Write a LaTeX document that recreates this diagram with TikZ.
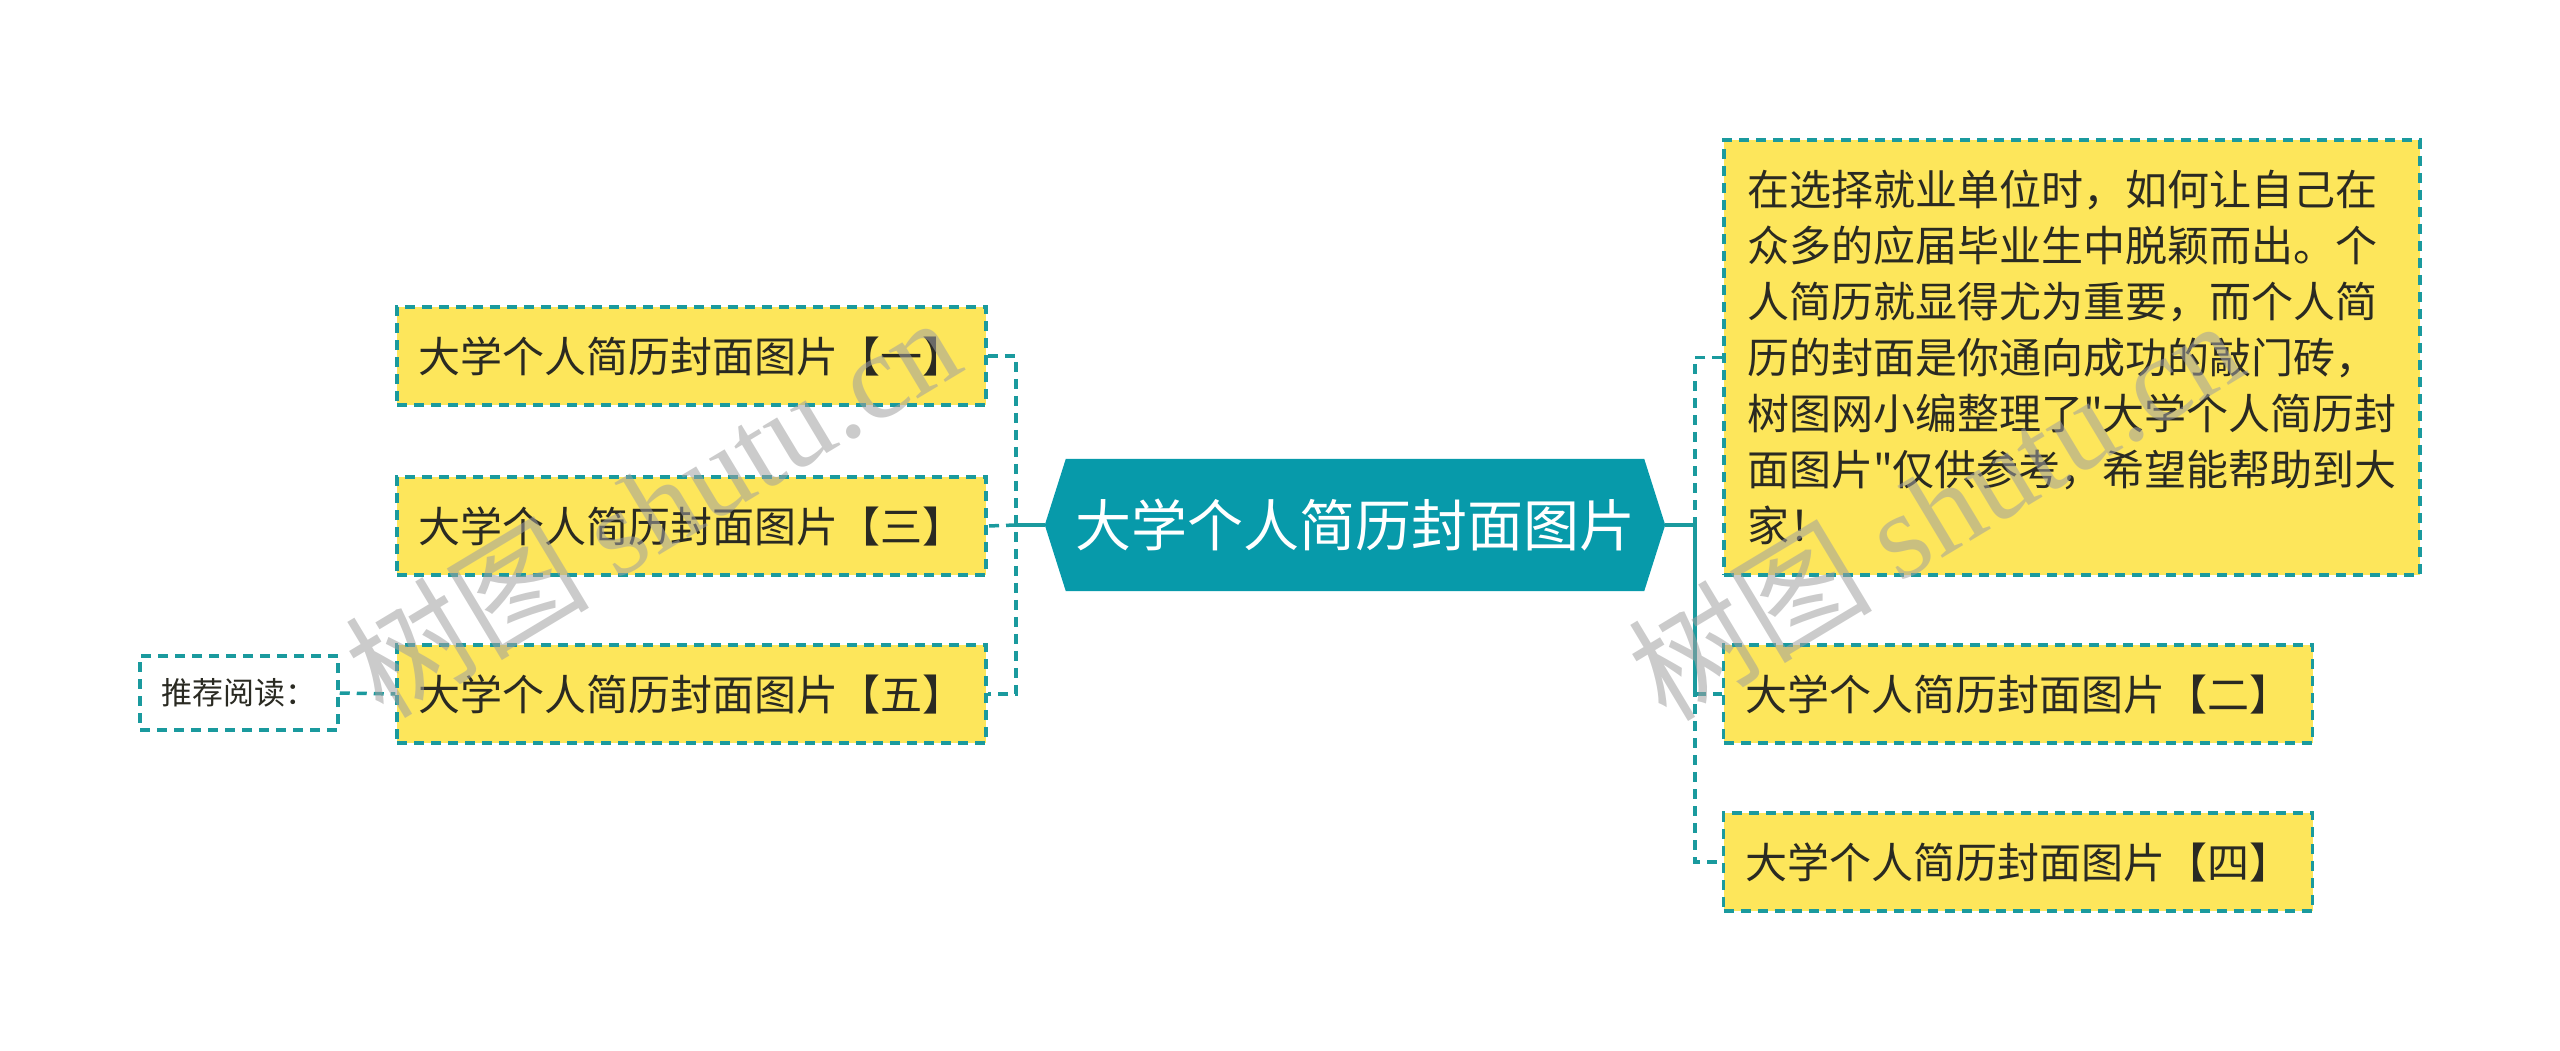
\documentclass[tikz,border=0pt]{standalone}
\usepackage{fontspec}
\setmainfont{Noto Sans CJK SC}[Ligatures=TeXOff]
\newfontfamily\wmserif{Liberation Serif}
\usetikzlibrary{backgrounds}
\definecolor{tealc}{HTML}{079AAA}
\definecolor{bordc}{HTML}{1A9A9E}
\definecolor{yel}{HTML}{FDE65B}
\definecolor{txt}{HTML}{2A2A22}
\definecolor{wmc}{HTML}{A0A0A0}
\begin{document}
\begin{tikzpicture}[x=1pt,y=-1pt,
  dashbox/.style={draw=bordc, line width=3.5pt, dash pattern=on 10pt off 7pt},
  leaf/.style={dashbox, fill=yel, text=txt, minimum width=589pt, minimum height=98pt, inner sep=0pt, font=\fontsize{42}{50}\selectfont},
  bigleaf/.style={dashbox, fill=yel, text=txt, minimum width=696pt, minimum height=435pt, inner sep=0pt, align=left, font=\fontsize{42}{56}\selectfont},
  recbox/.style={dashbox, fill=white, text=txt, minimum width=198pt, minimum height=74pt, inner sep=0pt, font=\fontsize{31}{36}\selectfont},
  centre/.style={minimum width=620pt, minimum height=132pt, inner sep=0pt, text=white, font=\fontsize{56}{62}\selectfont},
  link/.style={draw=bordc, line width=4.5pt},
  dlink/.style={draw=bordc, line width=3.5pt, dash pattern=on 10pt off 7pt},
  wm/.style={text=wmc, opacity=0.55, rotate=31, font=\fontsize{122}{130}\selectfont}
]
\useasboundingbox (0,0) rectangle (2560,1051);

% central node
\node[centre] (c) at (1355,525) {大学个人简历封面图片};
\begin{pgfonlayer}{background}
\fill[tealc] ([xshift=21pt]c.north west) -- ([xshift=-21pt]c.north east) -- (c.east)
  -- ([xshift=-21pt]c.south east) -- ([xshift=21pt]c.south west) -- (c.west) -- cycle;
\end{pgfonlayer}

% left branch
\node[leaf] (n1) at (691.5,356) {大学个人简历封面图片【一】};
\node[leaf] (n3) at (691.5,526) {大学个人简历封面图片【三】};
\node[leaf] (n5) at (691.5,694) {大学个人简历封面图片【五】};
\node[recbox] (rec) at (239,693) {推荐阅读：};

% right branch
\node[bigleaf] (big) at (2072,357.5) {在选择就业单位时，如何让自己在\\众多的应届毕业生中脱颖而出。个\\人简历就显得尤为重要，而个人简\\历的封面是你通向成功的敲门砖，\\树图网小编整理了"大学个人简历封\\面图片"仅供参考，希望能帮助到大\\家！};
\node[leaf] (n2) at (2018,694) {大学个人简历封面图片【二】};
\node[leaf] (n4) at (2018,862) {大学个人简历封面图片【四】};

\coordinate (jl) at (1016,525);
\coordinate (jr) at (1695,525);

\draw[link] (c.west) -- (jl);
\draw[dlink] (n1.east) -| (jl) |- (n5.east);
\draw[dlink] (jl) -- (n3.east);
\draw[dlink] (rec.east) -- (n5.west);

\draw[link] (c.east) -- (jr);
\draw[dlink] (big.west) -| (jr) |- (n4.west);
\draw[dlink] (jr) |- (n2.west);

% watermarks
\node[wm] (wm1) at (652,505) {树图 {\wmserif shutu.cn}};
\node[wm] (wm2) at (1935,508) {树图 {\wmserif shutu.cn}};
\end{tikzpicture}
\end{document}
